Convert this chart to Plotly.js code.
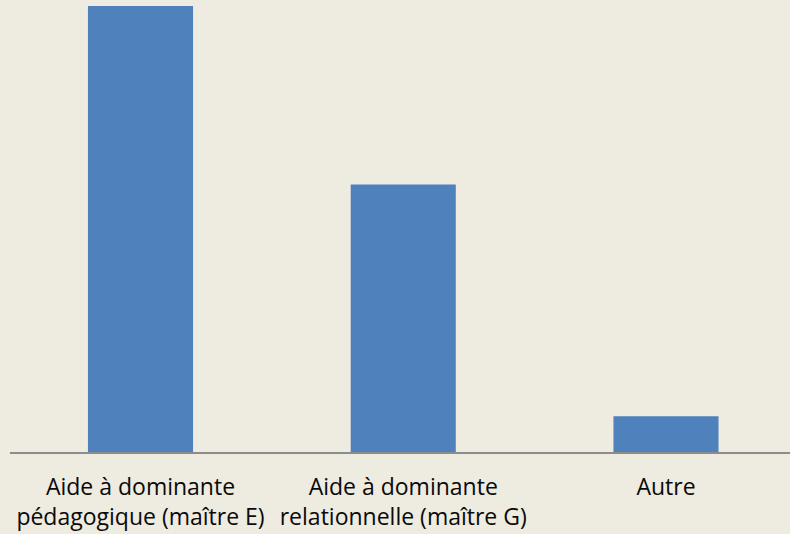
<!DOCTYPE html>
<html><head><meta charset="utf-8">
<script src="https://cdn.plot.ly/plotly-3.0.1.min.js"></script>
<style>html,body{margin:0;padding:0;background:#EEEBE0;}#chart{width:790px;height:534px;}</style>
</head><body><div id="chart"></div>
<script>
var categories = ["Aide à dominante<br>pédagogique (maître E)", "Aide à dominante<br>relationnelle (maître G)", "Autre"];
var values = [25, 15, 2];

var trace = {
  type: 'bar',
  x: [0, 1, 2],
  y: values,
  marker: {color: '#4F81BD', line: {width: 0}},
  hoverinfo: 'none'
};
var layout = {
  width: 790, height: 534,
  paper_bgcolor: '#EEEBE0', plot_bgcolor: '#EEEBE0',
  margin: {l: 10, r: 0, t: 0, b: 82},
  bargap: 0.6,
  showlegend: false,
  xaxis: {
    range: [-0.4967, 2.472],
    tickmode: 'array', tickvals: [0, 1, 2], ticktext: categories,
    showgrid: false, zeroline: false,
    showline: true, linecolor: '#8C8C8C', linewidth: 2,
    ticks: '', ticklen: 0,
    ticklabelstandoff: 13,
    tickfont: {family: 'Open Sans, sans-serif', size: 23, color: '#0a0a0a'}
  },
  yaxis: {
    range: [0, 25 * 452 / 446],
    showgrid: false, zeroline: false, showline: false,
    showticklabels: false, ticks: ''
  }
};
Plotly.newPlot('chart', [trace], layout, {displayModeBar: false, staticPlot: true});
</script></body></html>
